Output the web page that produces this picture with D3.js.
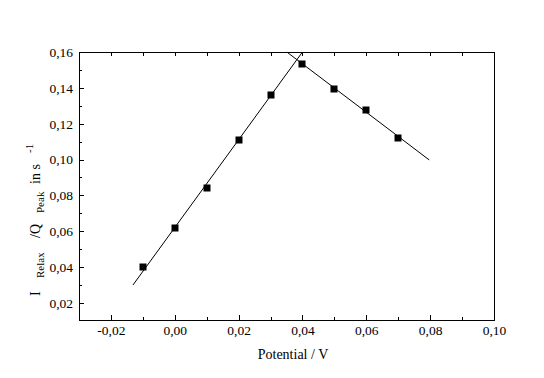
<!DOCTYPE html>
<html><head><meta charset="utf-8">
<script src="https://cdn.jsdelivr.net/npm/d3@7"></script>
<style>
body{margin:0;background:#fff;}
svg text{font-family:"Liberation Serif","Times New Roman",serif !important;fill:#000;}
</style></head>
<body><svg id="c" width="544" height="378"></svg>
<script>
// data
const risePotential = [-0.01, 0.00, 0.01, 0.02, 0.03];
const riseValue = [0.0403, 0.0617, 0.0840, 0.1109, 0.1360];
const fallPotential = [0.04, 0.05, 0.06, 0.07];
const fallValue = [0.1533, 0.1392, 0.1275, 0.1119];
const fitRiseX = [-0.0131, 0.0400];
const fitRiseY = [0.0300, 0.1600];
const fitFallX = [0.0351, 0.0797];
const fitFallY = [0.1600, 0.0998];
const xTicks = [-0.02, 0.00, 0.02, 0.04, 0.06, 0.08, 0.10];
const yTicks = [0.02, 0.04, 0.06, 0.08, 0.10, 0.12, 0.14, 0.16];
const xMinor = [-0.03,-0.01,0.01,0.03,0.05,0.07,0.09];
const yMinor = [0.03,0.05,0.07,0.09,0.11,0.13,0.15];

const FONT = '"Liberation Serif","Times New Roman",serif';
const svg = d3.select("#c");
const L=79, R=494, T=52, B=320;
const x = d3.scaleLinear().domain([-0.03,0.10]).range([L,R]);
const y = d3.scaleLinear().domain([0.0105,0.16]).range([B,T]);
const fmt = d => d3.format(".2f")(d).replace(".",",").replace("−","-");

// frame
svg.append("rect").attr("x",L).attr("y",T).attr("width",R-L).attr("height",B-T)
  .attr("fill","none").attr("stroke","#000").attr("stroke-width",1).attr("shape-rendering","crispEdges");

// bottom axis
const bx = svg.append("g").attr("transform",`translate(0,${B})`)
  .call(d3.axisBottom(x).tickValues(xTicks).tickSizeInner(-5).tickSizeOuter(0).tickPadding(5).tickFormat(fmt));
bx.select(".domain").remove();
bx.attr("font-family",FONT).attr("font-size",13.5);
svg.append("g").attr("transform",`translate(0,${B})`)
  .call(d3.axisBottom(x).tickValues(xMinor).tickSize(-3).tickFormat(""))
  .select(".domain").remove();
// top ticks
svg.append("g").attr("transform",`translate(0,${T})`)
  .call(d3.axisTop(x).tickValues(xTicks.concat(xMinor)).tickSize(-4).tickFormat(""))
  .select(".domain").remove();
// left axis
const ly = svg.append("g").attr("transform",`translate(${L},0)`)
  .call(d3.axisLeft(y).tickValues(yTicks).tickSizeInner(-5).tickSizeOuter(0).tickPadding(6).tickFormat(fmt));
ly.select(".domain").remove();
ly.attr("font-family",FONT).attr("font-size",13.5);
svg.append("g").attr("transform",`translate(${L},0)`)
  .call(d3.axisLeft(y).tickValues(yMinor).tickSize(-3).tickFormat(""))
  .select(".domain").remove();
svg.selectAll(".tick line").attr("shape-rendering","crispEdges");

// fit lines
const line = d3.line().x(d=>x(d[0])).y(d=>y(d[1]));
svg.append("path").datum(fitRiseX.map((v,i)=>[v,fitRiseY[i]])).attr("d",line)
  .attr("fill","none").attr("stroke","#000").attr("stroke-width",1);
svg.append("path").datum(fitFallX.map((v,i)=>[v,fitFallY[i]])).attr("d",line)
  .attr("fill","none").attr("stroke","#000").attr("stroke-width",1);

// points
const pts = risePotential.map((v,i)=>[v,riseValue[i]]).concat(fallPotential.map((v,i)=>[v,fallValue[i]]));
svg.selectAll("rect.pt").data(pts).join("rect").attr("class","pt")
  .attr("x",d=>Math.round(x(d[0]))-3.5).attr("y",d=>Math.round(y(d[1]))-3.5)
  .attr("width",7).attr("height",7).attr("fill","#000");

// x title
svg.append("text").attr("x",293).attr("y",359).attr("text-anchor","middle").attr("font-size",14)
  .attr("font-family",FONT).text("Potential / V");

// y title (rotated; tspan x = -screenY)
const yt = svg.append("text").attr("transform","translate(40,0) rotate(-90)").attr("font-size",14).attr("font-family",FONT);
yt.append("tspan").attr("x",-296).attr("y",0).text("I");
yt.append("tspan").attr("x",-278).attr("y",4).attr("font-size",11).text("Relax");
yt.append("tspan").attr("x",-238).attr("y",0).text("/Q");
yt.append("tspan").attr("x",-213).attr("y",4).attr("font-size",11).text("Peak");
yt.append("tspan").attr("x",-184).attr("y",0).text("in s");
yt.append("tspan").attr("x",-153).attr("y",-7).attr("font-size",11).text("-1");
</script></body></html>
